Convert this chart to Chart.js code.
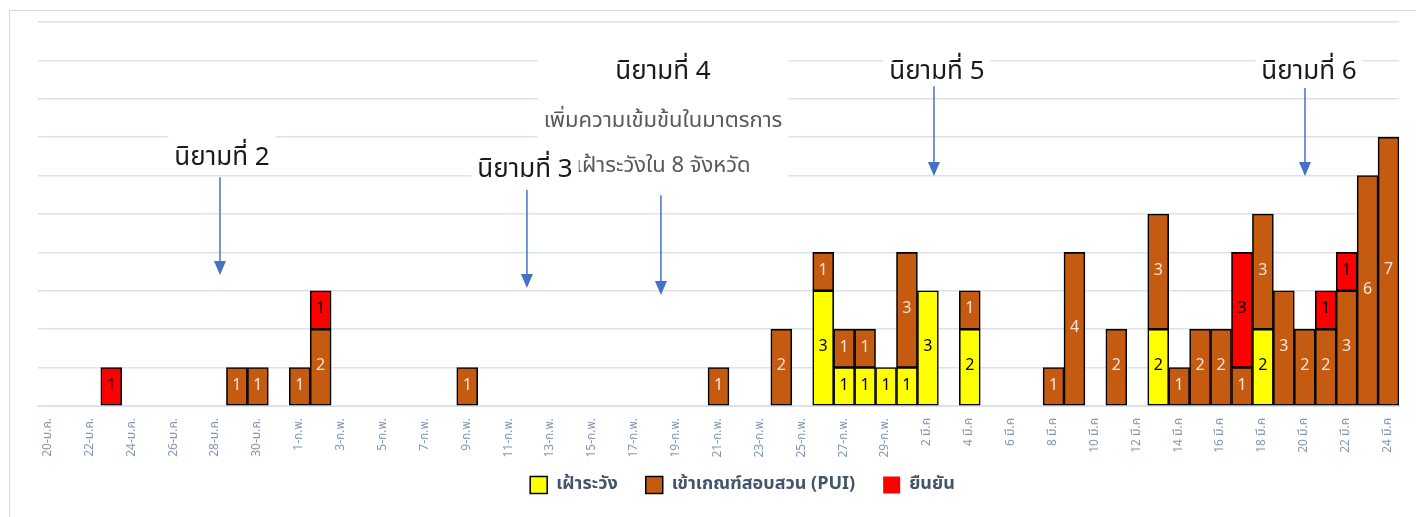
<!DOCTYPE html>
<html>
<head>
<meta charset="utf-8">
<script src="https://cdn.jsdelivr.net/npm/chart.js@4"></script>
<style>
  html, body { margin: 0; padding: 0; background: #fff; }
  #wrap { width: 1416px; height: 517px; }
</style>
</head>
<body>
<div id="wrap"><canvas id="chartCanvas" width="1416" height="517"></canvas></div>
<script>
const dates = [
  '20-ม.ค.', '21-ม.ค.', '22-ม.ค.', '23-ม.ค.', '24-ม.ค.', '25-ม.ค.', '26-ม.ค.', '27-ม.ค.', '28-ม.ค.', '29-ม.ค.', '30-ม.ค.', '31-ม.ค.',
  '1-ก.พ.', '2-ก.พ.', '3-ก.พ.', '4-ก.พ.', '5-ก.พ.', '6-ก.พ.', '7-ก.พ.', '8-ก.พ.', '9-ก.พ.', '10-ก.พ.',
  '11-ก.พ.', '12-ก.พ.', '13-ก.พ.', '14-ก.พ.', '15-ก.พ.', '16-ก.พ.', '17-ก.พ.', '18-ก.พ.', '19-ก.พ.', '20-ก.พ.',
  '21-ก.พ.', '22-ก.พ.', '23-ก.พ.', '24-ก.พ.', '25-ก.พ.', '26-ก.พ.', '27-ก.พ.', '28-ก.พ.', '29-ก.พ.',
  '1 มี.ค', '2 มี.ค', '3 มี.ค', '4 มี.ค', '5 มี.ค', '6 มี.ค', '7 มี.ค', '8 มี.ค', '9 มี.ค', '10 มี.ค',
  '11 มี.ค', '12 มี.ค', '13 มี.ค', '14 มี.ค', '15 มี.ค', '16 มี.ค', '17 มี.ค', '18 มี.ค', '19 มี.ค', '20 มี.ค',
  '21 มี.ค', '22 มี.ค', '23 มี.ค', '24 มี.ค'
];

// เฝ้าระวัง
const watch = [
  null, null, null, null, null, null, null, null, null, null, null, null,
  null, null, null, null, null, null, null, null, null, null,
  null, null, null, null, null, null, null, null, null, null,
  null, null, null, null, null, 3, 1, 1, 1,
  1, 3, null, 2, null, null, null, null, null, null,
  null, null, 2, null, null, null, null, 2, null, null,
  null, null, null, null
];

// เข้าเกณฑ์สอบสวน (PUI)
const pui = [
  null, null, null, null, null, null, null, null, null, 1, 1, null,
  1, 2, null, null, null, null, null, null, 1, null,
  null, null, null, null, null, null, null, null, null, null,
  1, null, null, 2, null, 1, 1, 1, null,
  3, null, null, 1, null, null, null, 1, 4, null,
  2, null, 3, 1, 2, 2, 1, 3, 3, 2,
  2, 3, 6, 7
];

// ยืนยัน
const confirmed = [
  null, null, null, 1, null, null, null, null, null, null, null, null,
  null, 1, null, null, null, null, null, null, null, null,
  null, null, null, null, null, null, null, null, null, null,
  null, null, null, null, null, null, null, null, null,
  null, null, null, null, null, null, null, null, null, null,
  null, null, null, null, null, null, 3, null, null, null,
  1, 1, null, null
];

const seriesNames = ['เฝ้าระวัง', 'เข้าเกณฑ์สอบสวน (PUI)', 'ยืนยัน'];
const seriesColors = ['#FFFF00', '#C55A11', '#FF0000'];
const labelColors = ['#000000', '#FBE5D6', '#000000'];

// annotations: x in day index, y in chart units
const notes = [
  { x: 8.29, lines: [['นิยามที่ 2', 6.40]], ax: 8.19, from: 5.96, to: 3.41 },
  { x: 29.35, lines: [['นิยามที่ 4', 8.64], ['เพิ่มความเข้มข้นในมาตรการ', 7.39], ['เฝ้าระวังใน 8 จังหวัด', 6.22]], ax: 29.25, from: 5.49, to: 2.89 },
  { x: 22.76, lines: [['นิยามที่ 3', 6.09]], ax: 22.85, from: 5.63, to: 3.07 },
  { x: 42.43, lines: [['นิยามที่ 5', 8.64]], ax: 42.29, from: 8.33, to: 5.99 },
  { x: 60.2, lines: [['นิยามที่ 6', 8.64]], ax: 60.01, from: 8.28, to: 5.99 }
];

const thaiFont = "Tahoma, 'Leelawadee UI', 'Noto Sans Thai', 'Noto Sans', 'DejaVu Sans', sans-serif";

const framePlugin = {
  id: 'frame',
  beforeDraw(chart) {
    const ctx = chart.ctx;
    ctx.save();
    ctx.fillStyle = '#fff';
    ctx.fillRect(0, 0, chart.width, chart.height);
    ctx.strokeStyle = '#D9D9D9';
    ctx.lineWidth = 1;
    ctx.strokeRect(9.5, 10.5, chart.width + 20, chart.height + 20);
    ctx.restore();
  },
  afterLayout(chart) {
    // legend sits a little right of centre and tight under the labels in the original
    const lg = chart.legend;
    if (lg) {
      lg.left += 24;
      lg.right += 24;
      lg.top -= 13;
      lg.bottom -= 13;
    }
  }
};

const notesPlugin = {
  id: 'notes',
  beforeDatasetsDraw(chart) {
    const ctx = chart.ctx;
    const xs = chart.scales.x;
    const ys = chart.scales.y;
    ctx.save();
    notes.forEach(n => {
      const cx = xs.getPixelForValue(n.x);
      let maxW = 0;
      n.lines.forEach((l, k) => {
        ctx.font = (k === 0 ? '26px ' : '22px ') + thaiFont;
        maxW = Math.max(maxW, ctx.measureText(l[0]).width);
      });
      const top = ys.getPixelForValue(n.lines[0][1]) - 26;
      const bottom = ys.getPixelForValue(n.lines[n.lines.length - 1][1]) + 12;
      ctx.fillStyle = '#fff';
      ctx.fillRect(cx - maxW / 2 - 6, top, maxW + 12, bottom - top);
      n.lines.forEach((l, k) => {
        ctx.font = (k === 0 ? '26px ' : '22px ') + thaiFont;
        ctx.fillStyle = k === 0 ? '#1A1A1A' : '#595959';
        ctx.textAlign = 'center';
        ctx.textBaseline = 'middle';
        ctx.fillText(l[0], cx, ys.getPixelForValue(l[1]));
      });
    });
    // arrows
    ctx.strokeStyle = '#4472C4';
    ctx.fillStyle = '#4472C4';
    ctx.lineWidth = 1.5;
    notes.forEach(n => {
      const ax = xs.getPixelForValue(n.ax);
      const y1 = ys.getPixelForValue(n.from);
      const y2 = ys.getPixelForValue(n.to);
      ctx.beginPath();
      ctx.moveTo(ax, y1);
      ctx.lineTo(ax, y2 - 12);
      ctx.stroke();
      ctx.beginPath();
      ctx.moveTo(ax - 6, y2 - 14);
      ctx.lineTo(ax + 6, y2 - 14);
      ctx.lineTo(ax, y2);
      ctx.closePath();
      ctx.fill();
    });
    ctx.restore();
  }
};

const valuesPlugin = {
  id: 'values',
  afterDatasetsDraw(chart) {
    const ctx = chart.ctx;
    ctx.save();
    ctx.font = '16px ' + thaiFont;
    ctx.textAlign = 'center';
    ctx.textBaseline = 'middle';
    chart.data.datasets.forEach((ds, i) => {
      const meta = chart.getDatasetMeta(i);
      meta.data.forEach((bar, j) => {
        const v = ds.data[j];
        if (v === null || v === undefined) return;
        const p = bar.getProps(['x', 'y', 'base'], true);
        ctx.fillStyle = labelColors[i];
        ctx.fillText(String(v), p.x, (p.y + p.base) / 2);
      });
    });
    ctx.restore();
  }
};

const seriesData = [watch, pui, confirmed];

new Chart(document.getElementById('chartCanvas'), {
  type: 'bar',
  data: {
    labels: dates,
    datasets: seriesData.map((d, i) => ({
      label: seriesNames[i],
      data: d,
      backgroundColor: seriesColors[i],
      borderColor: '#000000',
      borderWidth: 1.6,
      borderSkipped: false,
      categoryPercentage: 1,
      barPercentage: 1
    }))
  },
  options: {
    responsive: false,
    animation: false,
    layout: { padding: { left: 38, right: 17, top: 22, bottom: 0 } },
    scales: {
      x: {
        stacked: true,
        grid: { display: false },
        border: { color: '#DDE1E8', width: 2 },
        ticks: {
          autoSkip: false,
          minRotation: 90,
          maxRotation: 90,
          padding: 4,
          color: '#8497B0',
          font: { size: 12, family: thaiFont },
          callback: function (value, index) {
            return index % 2 === 0 ? dates[index] : '';
          }
        },
        afterFit: function (scale) { scale.height = 55; }
      },
      y: {
        stacked: true,
        min: 0,
        max: 10,
        ticks: { display: false, stepSize: 1 },
        grid: { color: '#DDE1E8', lineWidth: 1.5, drawTicks: false },
        border: { display: false }
      }
    },
    plugins: {
      legend: {
        position: 'bottom',
        labels: {
          color: '#44546A',
          boxWidth: 17,
          boxHeight: 17,
          padding: 28,
          font: { size: 18, weight: 'bold', family: thaiFont },
          generateLabels: function (chart) {
            return seriesNames.map((name, i) => ({
              text: name,
              fillStyle: seriesColors[i],
              strokeStyle: '#000000',
              lineWidth: i === 2 ? 0 : 1.5,
              fontColor: '#44546A',
              datasetIndex: i
            }));
          }
        }
      },
      tooltip: { enabled: false }
    }
  },
  plugins: [framePlugin, notesPlugin, valuesPlugin]
});
</script>
</body>
</html>
